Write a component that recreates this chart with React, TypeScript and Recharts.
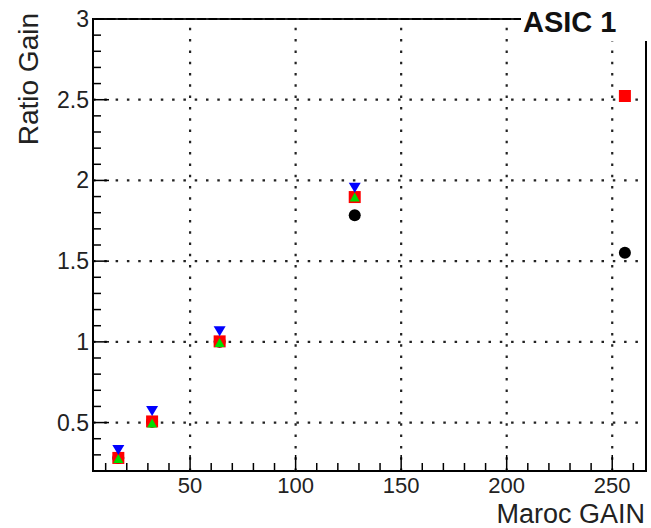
import { ScatterChart, Scatter, XAxis, YAxis, ReferenceLine, ReferenceArea, Label } from "recharts";

const FONT = "'Liberation Sans', Arial, Helvetica, sans-serif";

// Maroc gain settings (x) and measured gain ratio for each channel set
const gains = [16, 32, 64, 128, 256];
const blackRatio = [0.28, 0.505, 1.0, 1.785, 1.552];
const redRatio = [0.281, 0.507, 1.003, 1.897, 2.523];
const greenRatio = [0.274, 0.495, 0.993, 1.894];
const blueRatio = [0.33, 0.572, 1.065, 1.955];

const xMajor = [50, 100, 150, 200, 250];
const xTicks = [10, 20, 30, 40, 50, 60, 70, 80, 90, 100, 110, 120, 130, 140, 150, 160, 170, 180, 190, 200, 210, 220, 230, 240, 250, 260];
const yMajor = [0.5, 1, 1.5, 2, 2.5, 3];
const yTicks = [0.3, 0.4, 0.5, 0.6, 0.7, 0.8, 0.9, 1, 1.1, 1.2, 1.3, 1.4, 1.5, 1.6, 1.7, 1.8, 1.9, 2, 2.1, 2.2, 2.3, 2.4, 2.5, 2.6, 2.7, 2.8, 2.9, 3];

const points = (ys: number[]) => ys.map((y, i) => ({ x: gains[i], y }));

function XTick({ x, y, payload }: any) {
  const major = xMajor.includes(payload.value);
  return (
    <g>
      <line x1={x} y1={y} x2={x} y2={y - (major ? 16 : 8)} stroke="#000" strokeWidth={1.5} />
      {major && (
        <text x={x} y={y + 22} textAnchor="middle" fontSize={22} fontFamily={FONT} fill="#222">
          {payload.value}
        </text>
      )}
    </g>
  );
}

function YTick({ x, y, payload }: any) {
  const major = yMajor.includes(payload.value);
  return (
    <g>
      <line x1={x} y1={y} x2={x + (major ? 16 : 8)} y2={y} stroke="#000" strokeWidth={1.5} />
      {major && (
        <text x={x - 4} y={y + 8} textAnchor="end" fontSize={23} fontFamily={FONT} fill="#222">
          {payload.value}
        </text>
      )}
    </g>
  );
}

const square = ({ cx, cy }: any) => <rect x={cx - 6} y={cy - 6} width={12} height={12} fill="#ff0000" />;
const circle = ({ cx, cy }: any) => <circle cx={cx} cy={cy} r={6} fill="#000" />;
const triUp = ({ cx, cy }: any) => (
  <path d={`M${cx},${cy - 5} L${cx + 5},${cy + 4} L${cx - 5},${cy + 4} Z`} fill="#00dd00" />
);
const triDown = ({ cx, cy }: any) => (
  <path d={`M${cx - 6},${cy - 5} L${cx + 6},${cy - 5} L${cx},${cy + 5} Z`} fill="#0000ff" />
);

export default function App() {
  return (
    <div style={{ position: "absolute", left: 0, top: 0, width: 651, height: 528, background: "#fff" }}>
      <ScatterChart width={651} height={528} margin={{ top: 19, right: 5, left: 0, bottom: 0 }}>
        <XAxis
          type="number"
          dataKey="x"
          domain={[4, 266]}
          ticks={xTicks}
          interval={0}
          height={57}
          tickSize={0}
          tickMargin={0}
          tickLine={false}
          axisLine={false}
          tick={<XTick />}
        >
          <Label
            content={() => (
              <text x={645} y={523} textAnchor="end" fontSize={27} fontFamily={FONT} fill="#222">
                Maroc GAIN
              </text>
            )}
          />
        </XAxis>
        <YAxis
          type="number"
          dataKey="y"
          domain={[0.2, 3]}
          ticks={yTicks}
          interval={0}
          width={93}
          tickSize={0}
          tickMargin={0}
          tickLine={false}
          axisLine={false}
          tick={<YTick />}
        >
          <Label
            content={() => (
              <text x={38} y={13} transform="rotate(-90 38 13)" textAnchor="end" fontSize={28} fontFamily={FONT} fill="#222">
                Ratio Gain
              </text>
            )}
          />
        </YAxis>
        {xMajor.map((v) => (
          <ReferenceLine key={`gx${v}`} x={v} stroke="#222" strokeWidth={2.2} strokeDasharray="2.5 8.8" />
        ))}
        {yMajor.map((v) => (
          <ReferenceLine key={`gy${v}`} y={v} stroke="#222" strokeWidth={2.2} strokeDasharray="2.5 8.8" />
        ))}
        <ReferenceArea x1={4} x2={266} y1={0.2} y2={3} fill="none" stroke="#000" strokeWidth={2} />
        <Scatter data={points(blackRatio)} shape={circle} isAnimationActive={false} />
        <Scatter data={points(redRatio)} shape={square} isAnimationActive={false} />
        <Scatter data={points(greenRatio)} shape={triUp} isAnimationActive={false} />
        <Scatter data={points(blueRatio)} shape={triDown} isAnimationActive={false} />
      </ScatterChart>
      <div
        style={{
          position: "absolute",
          left: 521,
          top: 0,
          width: 130,
          height: 41,
          background: "#fff",
          fontFamily: FONT,
          fontWeight: "bold",
          fontSize: 29,
          lineHeight: "41px",
          paddingTop: 2,
          boxSizing: "border-box",
          paddingLeft: 2,
          color: "#111",
        }}
      >
        ASIC 1
      </div>
    </div>
  );
}
